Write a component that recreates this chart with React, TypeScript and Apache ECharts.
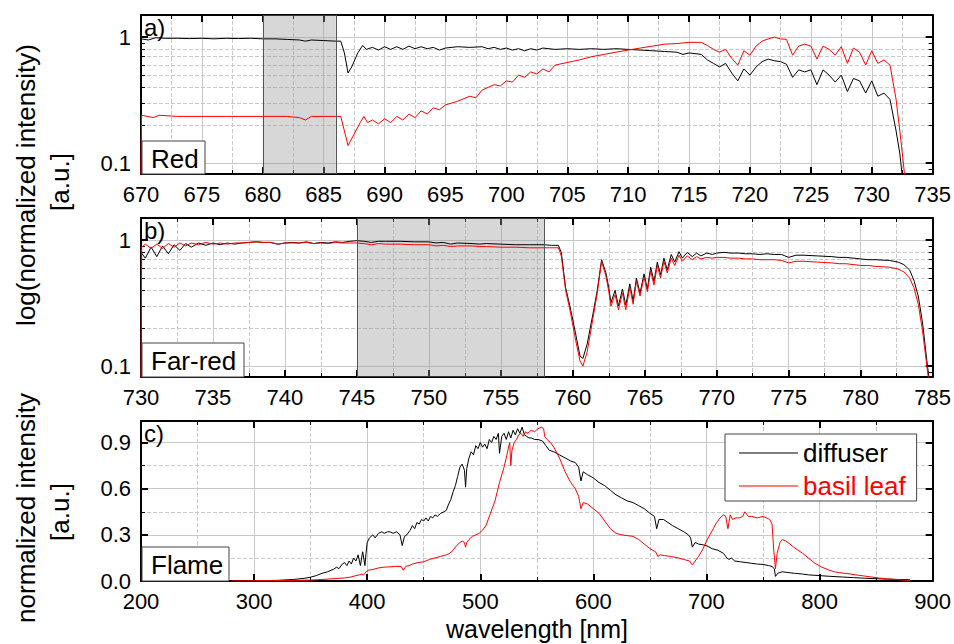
import React, { useEffect, useRef } from "react";
import * as echarts from "echarts";

const FONT = "'Liberation Sans', Arial, Helvetica, sans-serif";

// ---------- Panel a) Red ----------
const redRangeX = [670, 735];
const redBand = [680, 686];
const redDiffuser: [number, number][] = [
  [670, 0.97], [670.6, 0.95], [671.2, 0.99], [672, 0.98], [673, 0.98], [674, 0.975], [675, 0.98], [676, 0.97],
  [677, 0.98], [678, 0.975], [679, 0.98], [680, 0.97], [681, 0.97], [682, 0.96], [683, 0.95], [683.5, 0.93],
  [684, 0.95], [685, 0.94], [686, 0.93], [686.4, 0.93], [686.7, 0.75], [687, 0.52], [687.3, 0.58], [687.8, 0.75],
  [688.2, 0.86], [688.5, 0.8], [689, 0.83], [689.5, 0.79], [690, 0.84], [690.5, 0.8], [691, 0.84], [691.5, 0.8],
  [692, 0.85], [692.5, 0.81], [693, 0.84], [693.5, 0.81], [694, 0.83], [694.5, 0.79], [695, 0.82], [696, 0.84],
  [697, 0.83], [698, 0.84], [698.5, 0.81], [699, 0.83], [699.5, 0.8], [700, 0.82], [700.5, 0.79], [701, 0.81],
  [701.5, 0.78], [702, 0.81], [702.5, 0.79], [703, 0.82], [704, 0.8], [705, 0.81], [706, 0.8], [707, 0.81],
  [708, 0.8], [709, 0.81], [710, 0.8], [711, 0.79], [712, 0.78], [713, 0.77], [714, 0.76], [714.5, 0.73],
  [715, 0.75], [716, 0.73], [716.5, 0.66], [717, 0.62], [717.5, 0.58], [718, 0.62], [718.5, 0.52], [719, 0.45],
  [719.5, 0.56], [720, 0.5], [720.5, 0.58], [721, 0.64], [721.5, 0.67], [722, 0.65], [722.5, 0.64], [723, 0.61],
  [723.5, 0.48], [724, 0.55], [724.5, 0.53], [725, 0.55], [725.5, 0.42], [726, 0.55], [726.5, 0.5], [727, 0.44],
  [727.5, 0.5], [728, 0.37], [728.5, 0.47], [729, 0.45], [729.5, 0.36], [730, 0.45], [730.5, 0.34], [731, 0.36],
  [731.5, 0.32], [732, 0.18], [732.3, 0.12], [732.5, 0.08],
];
const redBasil: [number, number][] = [
  [670, 0.08], [670.05, 0.24], [671, 0.23], [671.5, 0.24], [673, 0.235], [675, 0.235], [677, 0.235], [680, 0.235],
  [682, 0.235], [683, 0.23], [683.5, 0.22], [684, 0.235], [685, 0.235], [686.4, 0.235], [686.7, 0.18], [687, 0.138],
  [687.5, 0.17], [688, 0.21], [688.3, 0.235], [688.6, 0.21], [689, 0.22], [689.5, 0.205], [690, 0.225], [690.5, 0.21],
  [691, 0.235], [691.5, 0.22], [692, 0.245], [692.5, 0.23], [693, 0.26], [693.5, 0.245], [694, 0.275], [694.5, 0.265],
  [695, 0.29], [696, 0.31], [697, 0.34], [697.5, 0.33], [698, 0.38], [699, 0.42], [699.5, 0.41], [700, 0.45],
  [700.5, 0.44], [701, 0.5], [701.5, 0.48], [702, 0.53], [702.5, 0.51], [703, 0.56], [703.5, 0.53], [704, 0.6],
  [705, 0.63], [706, 0.66], [707, 0.7], [708, 0.73], [709, 0.76], [710, 0.79], [711, 0.82], [712, 0.85],
  [713, 0.88], [714, 0.89], [715, 0.91], [716, 0.91], [716.5, 0.86], [717, 0.8], [717.5, 0.76], [718, 0.8],
  [718.5, 0.68], [719, 0.6], [719.5, 0.78], [720, 0.72], [720.5, 0.85], [721, 0.93], [721.5, 0.97], [722, 1.0],
  [722.5, 0.97], [723, 0.96], [723.5, 0.72], [724, 0.85], [724.5, 0.88], [725, 0.85], [725.5, 0.67], [726, 0.85],
  [726.5, 0.8], [727, 0.72], [727.5, 0.84], [728, 0.62], [728.5, 0.82], [729, 0.76], [729.5, 0.6], [730, 0.78],
  [730.5, 0.62], [731, 0.66], [731.5, 0.6], [732, 0.32], [732.4, 0.15], [732.7, 0.08],
];

// ---------- Panel b) Far-red ----------
const farRedRangeX = [730, 785];
const farRedBand = [745, 758];
const farRedDiffuser: [number, number][] = [
  [730, 0.8], [730.3, 0.72], [730.7, 0.88], [731.1, 0.74], [731.5, 0.9], [731.9, 0.78], [732.3, 0.92], [732.7, 0.83],
  [733.1, 0.94], [733.5, 0.88], [734, 0.95], [734.5, 0.91], [735, 0.95], [735.5, 0.92], [736, 0.95], [736.5, 0.93],
  [737, 0.95], [737.5, 0.96], [738, 0.97], [738.5, 0.96], [739, 0.96], [739.5, 0.93], [740, 0.95], [740.5, 0.96],
  [741, 0.95], [741.5, 0.97], [742, 0.94], [742.5, 0.96], [743, 0.95], [743.5, 0.97], [744, 0.96], [744.5, 0.98],
  [745, 0.99], [745.5, 0.98], [746, 0.96], [746.5, 0.98], [747, 0.98], [748, 0.98], [749, 0.97], [750, 0.97],
  [750.5, 0.95], [751, 0.96], [751.5, 0.93], [752, 0.95], [753, 0.94], [753.5, 0.93], [754, 0.94], [755, 0.93],
  [756, 0.92], [757, 0.92], [758, 0.92], [758.5, 0.91], [759, 0.91], [759.2, 0.8], [759.5, 0.42], [759.8, 0.3],
  [760.2, 0.18], [760.5, 0.12], [760.7, 0.115], [761, 0.15], [761.4, 0.26], [761.7, 0.4], [762, 0.7], [762.3, 0.55],
  [762.5, 0.42], [762.65, 0.32], [762.94, 0.4], [763.17, 0.3], [763.45, 0.41], [763.68, 0.305], [763.96, 0.45], [764.19, 0.33],
  [764.42, 0.5], [764.67, 0.38], [764.95, 0.54], [765.18, 0.41], [765.41, 0.61], [765.64, 0.47], [765.87, 0.67], [766.1, 0.53],
  [766.33, 0.72], [766.56, 0.58], [766.84, 0.77], [767.08, 0.67], [767.38, 0.81], [767.61, 0.72], [767.95, 0.8], [768.3, 0.74],
  [768.6, 0.79], [768.9, 0.75], [769.3, 0.79], [769.7, 0.77], [770, 0.79], [770.5, 0.8], [771, 0.79], [771.5, 0.79],
  [772, 0.78], [772.5, 0.78], [773, 0.77], [773.5, 0.78], [774, 0.77], [774.5, 0.77], [775, 0.73], [775.5, 0.76],
  [776, 0.76], [777, 0.75], [778, 0.74], [778.5, 0.73], [779, 0.73], [780, 0.71], [780.5, 0.7], [781, 0.7],
  [782, 0.69], [782.6, 0.67], [783, 0.64], [783.4, 0.58], [783.7, 0.48], [784, 0.36], [784.3, 0.22], [784.6, 0.11],
  [784.75, 0.08],
];
const farRedBasil: [number, number][] = [
  [730, 0.08], [730.05, 0.88], [730.3, 0.93], [730.7, 0.86], [731.1, 0.93], [731.5, 0.86], [731.9, 0.94], [732.3, 0.88],
  [732.7, 0.95], [733.1, 0.9], [733.5, 0.95], [734, 0.92], [734.5, 0.96], [735, 0.93], [735.5, 0.95], [736, 0.93],
  [736.5, 0.95], [737, 0.95], [737.5, 0.96], [738, 0.97], [738.5, 0.96], [739, 0.96], [739.5, 0.93], [740, 0.95],
  [740.5, 0.95], [741, 0.95], [741.5, 0.96], [742, 0.94], [742.5, 0.95], [743, 0.94], [743.5, 0.96], [744, 0.95],
  [744.5, 0.95], [745, 0.95], [745.5, 0.94], [746, 0.92], [746.5, 0.94], [747, 0.93], [748, 0.93], [749, 0.92],
  [750, 0.92], [750.5, 0.9], [751, 0.91], [751.5, 0.89], [752, 0.9], [753, 0.9], [753.5, 0.89], [754, 0.89],
  [755, 0.88], [756, 0.88], [757, 0.87], [758, 0.87], [758.5, 0.87], [759, 0.87], [759.2, 0.75], [759.5, 0.4],
  [759.8, 0.28], [760.2, 0.16], [760.5, 0.11], [760.7, 0.1], [761, 0.13], [761.4, 0.24], [761.7, 0.38], [762, 0.68],
  [762.3, 0.52], [762.5, 0.39], [762.65, 0.3], [762.94, 0.37], [763.17, 0.28], [763.45, 0.38], [763.68, 0.28], [763.96, 0.42],
  [764.19, 0.31], [764.42, 0.47], [764.67, 0.36], [764.95, 0.51], [765.18, 0.39], [765.41, 0.57], [765.64, 0.44], [765.87, 0.63],
  [766.1, 0.5], [766.33, 0.68], [766.56, 0.55], [766.84, 0.72], [767.08, 0.63], [767.38, 0.76], [767.61, 0.68], [767.95, 0.75],
  [768.3, 0.7], [768.6, 0.74], [768.9, 0.71], [769.3, 0.73], [769.7, 0.72], [770, 0.73], [770.5, 0.73], [771, 0.72],
  [771.5, 0.72], [772, 0.71], [772.5, 0.71], [773, 0.7], [773.5, 0.7], [774, 0.7], [774.5, 0.69], [775, 0.66],
  [775.5, 0.68], [776, 0.68], [777, 0.67], [778, 0.66], [778.5, 0.65], [779, 0.65], [780, 0.63], [780.5, 0.63],
  [781, 0.62], [782, 0.61], [782.6, 0.59], [783, 0.56], [783.4, 0.5], [783.7, 0.42], [784, 0.31], [784.3, 0.19],
  [784.6, 0.1], [784.7, 0.08],
];

// ---------- Panel c) Flame ----------
const flameRangeX = [200, 900];
const flameDiffuser: [number, number][] = [
  [270, 0], [300, 0.002], [320, 0.004], [335, 0.01], [345, 0.018], [350, 0.025], [355, 0.035], [360, 0.05],
  [365, 0.06], [368, 0.07], [370, 0.075], [373, 0.09], [375, 0.08], [378, 0.11], [380, 0.12], [382, 0.1],
  [384, 0.13], [386, 0.11], [388, 0.15], [390, 0.13], [392, 0.17], [394, 0.1], [396, 0.19], [398, 0.1],
  [399, 0.18], [400, 0.25], [402, 0.28], [405, 0.3], [407, 0.28], [410, 0.31], [413, 0.32], [415, 0.31],
  [418, 0.32], [420, 0.32], [423, 0.31], [426, 0.32], [429, 0.3], [431, 0.23], [433, 0.29], [435, 0.3],
  [438, 0.33], [440, 0.36], [442, 0.34], [444, 0.38], [446, 0.37], [448, 0.4], [450, 0.39], [452, 0.41],
  [454, 0.39], [456, 0.42], [458, 0.41], [460, 0.43], [462, 0.42], [465, 0.44], [468, 0.45], [470, 0.46],
  [472, 0.5], [474, 0.53], [476, 0.58], [478, 0.62], [480, 0.68], [482, 0.74], [484, 0.76], [486, 0.72],
  [487, 0.61], [488, 0.73], [490, 0.8], [492, 0.84], [494, 0.82], [496, 0.88], [498, 0.86], [500, 0.9],
  [502, 0.87], [504, 0.89], [506, 0.86], [508, 0.92], [510, 0.9], [512, 0.94], [514, 0.92], [516, 0.96],
  [517, 0.83], [519, 0.94], [521, 0.96], [523, 0.92], [525, 0.97], [527, 0.93], [529, 0.98], [531, 0.95],
  [533, 0.99], [535, 0.96], [537, 1.0], [539, 0.95], [541, 0.94], [543, 0.93], [545, 0.93], [548, 0.92],
  [551, 0.92], [555, 0.91], [558, 0.88], [561, 0.85], [565, 0.84], [570, 0.82], [575, 0.8], [580, 0.78],
  [584, 0.77], [587, 0.74], [589, 0.65], [591, 0.71], [595, 0.69], [600, 0.67], [605, 0.64], [610, 0.62],
  [615, 0.59], [620, 0.56], [625, 0.54], [630, 0.52], [635, 0.51], [640, 0.49], [645, 0.47], [650, 0.44],
  [654, 0.42], [656, 0.34], [658, 0.4], [662, 0.4], [666, 0.38], [670, 0.36], [675, 0.34], [680, 0.32],
  [684, 0.3], [686, 0.28], [687.5, 0.22], [690, 0.25], [693, 0.24], [697, 0.235], [700, 0.23], [705, 0.21],
  [710, 0.2], [715, 0.18], [718, 0.15], [720, 0.14], [722, 0.15], [725, 0.13], [730, 0.125], [735, 0.12],
  [740, 0.115], [745, 0.11], [750, 0.108], [755, 0.1], [758, 0.094], [760, 0.08], [761, 0.03], [763, 0.05],
  [767, 0.06], [772, 0.055], [778, 0.05], [785, 0.045], [790, 0.04], [800, 0.035], [810, 0.03], [820, 0.026],
  [830, 0.022], [840, 0.018], [850, 0.015], [860, 0.012], [870, 0.01], [880, 0.008],
];
const flameBasil: [number, number][] = [
  [280, 0], [300, 0.002], [330, 0.003], [350, 0.006], [360, 0.01], [370, 0.015], [380, 0.02], [385, 0.025],
  [390, 0.035], [393, 0.04], [395, 0.045], [397, 0.04], [399, 0.06], [401, 0.07], [405, 0.075], [410, 0.085],
  [415, 0.09], [420, 0.092], [425, 0.095], [430, 0.095], [432, 0.07], [434, 0.095], [437, 0.1], [440, 0.11],
  [445, 0.12], [450, 0.125], [455, 0.14], [460, 0.15], [465, 0.16], [470, 0.17], [473, 0.18], [476, 0.2],
  [479, 0.23], [482, 0.25], [484, 0.26], [486, 0.25], [487, 0.22], [488, 0.25], [490, 0.27], [493, 0.29],
  [496, 0.3], [499, 0.31], [502, 0.33], [505, 0.36], [507, 0.4], [509, 0.44], [511, 0.48], [513, 0.52],
  [515, 0.58], [517, 0.64], [519, 0.69], [521, 0.74], [523, 0.8], [525, 0.87], [526, 0.9], [527, 0.75],
  [528, 0.85], [530, 0.9], [532, 0.92], [534, 0.95], [536, 0.96], [538, 0.94], [540, 0.97], [542, 0.96],
  [545, 0.98], [548, 0.97], [551, 0.99], [554, 1.0], [556, 0.99], [557, 0.94], [559, 0.92], [562, 0.9],
  [565, 0.87], [570, 0.8], [575, 0.71], [580, 0.64], [584, 0.6], [587, 0.55], [589, 0.47], [591, 0.51],
  [595, 0.5], [600, 0.47], [605, 0.44], [610, 0.39], [615, 0.34], [620, 0.31], [625, 0.3], [630, 0.295],
  [635, 0.29], [640, 0.27], [645, 0.24], [650, 0.21], [655, 0.19], [657, 0.16], [659, 0.17], [663, 0.165],
  [668, 0.16], [675, 0.15], [680, 0.14], [685, 0.13], [687.5, 0.105], [690, 0.13], [693, 0.16], [697, 0.21],
  [700, 0.26], [703, 0.3], [706, 0.34], [709, 0.38], [712, 0.41], [715, 0.43], [717, 0.42], [719, 0.34],
  [721, 0.43], [723, 0.4], [726, 0.41], [729, 0.41], [732, 0.42], [734, 0.45], [737, 0.42], [740, 0.42],
  [745, 0.41], [750, 0.42], [753, 0.41], [756, 0.4], [758, 0.37], [759.5, 0.2], [761, 0.08], [762.5, 0.18],
  [765, 0.25], [767, 0.27], [770, 0.26], [773, 0.245], [777, 0.22], [781, 0.2], [785, 0.18], [790, 0.15],
  [796, 0.115], [802, 0.09], [808, 0.072], [813, 0.06], [817, 0.055], [822, 0.05], [826, 0.047], [832, 0.04],
  [838, 0.034], [845, 0.027], [852, 0.02], [860, 0.014], [867, 0.01], [875, 0.005], [880, 0.002],
];

// ---------- Axis values ----------
const logRange = [0.082, 1.5];
const logMinorTicks = [0.09, 0.2, 0.3, 0.4, 0.5, 0.6, 0.7, 0.8, 0.9];
const linRange = [0, 1.04];
const linInterval = 0.3;
const seriesNames = ["diffuser", "basil leaf"];
const seriesColors = ["#000000", "#ff0000"];

const GRID_LINE = "#c8c8c8";

const AXIS_LINE = { show: true, onZero: false, lineStyle: { color: "#000", width: 2 } };

function xAxisPair(gridIndex: number, range: number[], interval: number) {
  const common = {
    type: "value",
    gridIndex,
    min: range[0],
    max: range[1],
    interval,
    axisLine: AXIS_LINE,
    axisTick: { show: true, inside: true, length: 7, lineStyle: { color: "#000", width: 2 } },
    minorTick: { show: true, splitNumber: 2, length: 4, lineStyle: { color: "#000", width: 1 } },
  };
  return [
    {
      ...common,
      position: "bottom",
      axisLabel: { show: true, fontSize: 22, fontFamily: FONT, color: "#000", margin: 9 },
      splitLine: { show: true, showMinLine: false, showMaxLine: false, lineStyle: { color: GRID_LINE, width: 1 } },
      minorSplitLine: { show: true, lineStyle: { color: GRID_LINE, width: 1, type: "dashed" } },
    },
    {
      ...common,
      position: "top",
      axisLabel: { show: false },
      splitLine: { show: false },
      minorSplitLine: { show: false },
    },
  ];
}

function logYAxes(gridIndex: number) {
  const main = {
    type: "log",
    logBase: 10,
    gridIndex,
    min: logRange[0],
    max: logRange[1],
    axisLine: AXIS_LINE,
    axisTick: { show: true, inside: true, length: 7, lineStyle: { color: "#000", width: 2 } },
  };
  const minorVals = logMinorTicks.map((v) => Math.log10(v));
  const minor = {
    type: "value",
    gridIndex,
    min: Math.log10(logRange[0]),
    max: Math.log10(logRange[1]),
    axisLine: { show: false, onZero: false },
    axisLabel: { show: false },
    axisTick: { show: true, inside: true, length: 4, customValues: minorVals, lineStyle: { color: "#000", width: 1 } },
  };
  return [
    {
      ...main,
      position: "left",
      axisLabel: {
        show: true, fontSize: 22, fontFamily: FONT, color: "#000", margin: 10,
        showMinLabel: false, showMaxLabel: false,
      },
      splitLine: { show: true, showMinLine: false, showMaxLine: false, lineStyle: { color: GRID_LINE, width: 1 } },
    },
    { ...main, position: "right", axisLabel: { show: false }, splitLine: { show: false } },
    {
      ...minor,
      position: "left",
      splitLine: { show: true, showMinLine: false, showMaxLine: false, lineStyle: { color: GRID_LINE, width: 1, type: "dashed" } },
    },
    { ...minor, position: "right", splitLine: { show: false } },
  ];
}

function linYAxes(gridIndex: number) {
  const common = {
    type: "value",
    gridIndex,
    min: linRange[0],
    max: linRange[1],
    interval: linInterval,
    axisLine: AXIS_LINE,
    axisTick: { show: true, inside: true, length: 7, lineStyle: { color: "#000", width: 2 } },
    minorTick: { show: true, splitNumber: 2, length: 4, lineStyle: { color: "#000", width: 1 } },
  };
  return [
    {
      ...common,
      position: "left",
      axisLabel: {
        show: true, fontSize: 22, fontFamily: FONT, color: "#000", margin: 10,
        showMaxLabel: false, formatter: (v: number) => v.toFixed(1),
      },
      splitLine: { show: true, showMinLine: false, showMaxLine: false, lineStyle: { color: GRID_LINE, width: 1 } },
      minorSplitLine: { show: true, lineStyle: { color: GRID_LINE, width: 1, type: "dashed" } },
    },
    { ...common, position: "right", axisLabel: { show: false }, splitLine: { show: false }, minorSplitLine: { show: false } },
  ];
}

function lineSeries(name: string, color: string, data: [number, number][], xi: number, yi: number, extra: any = {}) {
  return {
    type: "line",
    name,
    data,
    xAxisIndex: xi,
    yAxisIndex: yi,
    symbol: "none",
    showSymbol: false,
    clip: true,
    lineStyle: { color, width: 1 },
    itemStyle: { color },
    emphasis: { disabled: true },
    ...extra,
  };
}

function bandMarks(band: number[]) {
  return {
    markArea: {
      silent: true,
      itemStyle: { color: "rgba(150,150,150,0.38)", borderWidth: 0 },
      data: [[{ xAxis: band[0] }, { xAxis: band[1] }]],
    },
    markLine: {
      silent: true,
      symbol: "none",
      label: { show: false },
      lineStyle: { color: "#555", width: 1, type: "solid" },
      data: [{ xAxis: band[0] }, { xAxis: band[1] }],
    },
  };
}

function textEl(text: string, x: number, y: number, size: number, extra: any = {}, color = "#000") {
  return {
    type: "text",
    x,
    y,
    z: 101,
    ...extra,
    style: {
      text,
      fontSize: size,
      fontFamily: FONT,
      fill: color,
      align: extra.align || "left",
      verticalAlign: "middle",
      textAlign: extra.align || "left",
      textVerticalAlign: "middle",
    },
  };
}

function labelBox(text: string, x: number, y: number, w: number, h: number) {
  return [
    { type: "rect", z: 100, shape: { x, y, width: w, height: h }, style: { fill: "#fff", stroke: "#444", lineWidth: 1 } },
    textEl(text, x + 9, y + h / 2 + 1, 26),
  ];
}

export default function App() {
  const ref = useRef<HTMLDivElement>(null);
  useEffect(() => {
    if (!ref.current) return;
    const chart = echarts.init(ref.current, null, { renderer: "svg" });
    const option: any = {
      animation: false,
      backgroundColor: "#fff",
      grid: [
        { left: 141, top: 15, width: 793, height: 159 },
        { left: 141, top: 218, width: 793, height: 159 },
        { left: 141, top: 421, width: 793, height: 160 },
      ],
      xAxis: [
        ...xAxisPair(0, redRangeX, 5),
        ...xAxisPair(1, farRedRangeX, 5),
        ...xAxisPair(2, flameRangeX, 100),
      ],
      yAxis: [...logYAxes(0), ...logYAxes(1), ...linYAxes(2)],
      legend: {
        left: 725,
        top: 434,
        orient: "vertical",
        icon: "rect",
        itemWidth: 59,
        itemHeight: 1,
        itemGap: 3,
        padding: [4, 11, 0, 14],
        borderColor: "#444",
        borderWidth: 1,
        backgroundColor: "#fff",
        selectedMode: false,
        textStyle: { fontSize: 26, fontFamily: FONT, lineHeight: 30 },
        data: [
          { name: seriesNames[0], textStyle: { color: seriesColors[0] } },
          { name: seriesNames[1], textStyle: { color: seriesColors[1] } },
        ],
      },
      series: [
        lineSeries(seriesNames[0], seriesColors[0], redDiffuser, 0, 0),
        lineSeries(seriesNames[1], seriesColors[1], redBasil, 0, 0, bandMarks(redBand)),
        lineSeries(seriesNames[0], seriesColors[0], farRedDiffuser, 2, 4),
        lineSeries(seriesNames[1], seriesColors[1], farRedBasil, 2, 4, bandMarks(farRedBand)),
        lineSeries(seriesNames[0], seriesColors[0], flameDiffuser, 4, 8),
        lineSeries(seriesNames[1], seriesColors[1], flameBasil, 4, 8),
      ],
      graphic: [
        textEl("a)", 144, 27, 24),
        textEl("b)", 144, 230, 24),
        textEl("c)", 144, 433, 24),
        ...labelBox("Red", 142, 141, 63, 33),
        ...labelBox("Far-red", 142, 343, 102, 34),
        ...labelBox("Flame", 142, 547, 87, 34),
        textEl("log(normalized intensity)", 26, 185, 26, { rotation: Math.PI / 2, align: "center" }),
        textEl("[a.u.]", 60, 182, 26, { rotation: Math.PI / 2, align: "center" }),
        textEl("normalized intensity", 26, 508, 26, { rotation: Math.PI / 2, align: "center" }),
        textEl("[a.u.]", 60, 512, 26, { rotation: Math.PI / 2, align: "center" }),
        textEl("wavelength [nm]", 537, 629, 25, { align: "center" }),
      ],
    };
    chart.setOption(option);
    return () => chart.dispose();
  }, []);
  return (
    <div
      ref={ref}
      style={{ position: "absolute", left: 0, top: 0, width: 954, height: 644, background: "#fff" }}
    />
  );
}
